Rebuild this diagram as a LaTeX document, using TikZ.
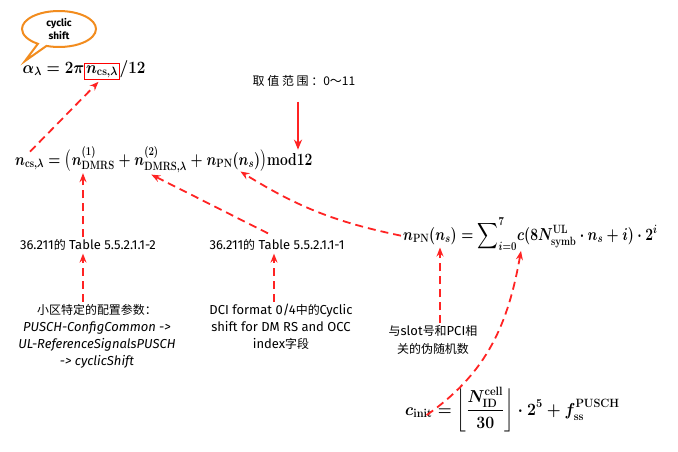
\documentclass[tikz,border=0pt]{standalone}
\usepackage{amsmath,amssymb}
\usepackage[no-math]{fontspec}
\setmainfont{Fira Sans}
\newfontfamily\cjk[Scale=0.92]{Noto Sans CJK SC}
\newfontfamily\cjksp[LetterSpace=22]{Noto Sans CJK SC}
\newfontfamily\cjkn{Noto Sans CJK SC}
\usetikzlibrary{arrows.meta,shapes.callouts}
\definecolor{arrred}{RGB}{255,35,35}
\definecolor{bubor}{RGB}{242,140,30}
\begin{document}
\begin{tikzpicture}[x=1pt,y=1pt,
  eq/.style={inner sep=0pt, font=\fontsize{18}{21}\selectfont\boldmath, xscale=#1, transform shape},
  eq/.default=0.8,
  lbl/.style={font=\fontsize{13}{17}\selectfont, align=center, inner sep=0pt},
  darr/.style={draw=arrred, line width=1.8pt, dash pattern=on 8pt off 5pt,
    -{Stealth[length=9pt,width=7pt,inset=3pt]}},
  sarr/.style={draw=arrred, line width=1.8pt, -{Stealth[length=10pt,width=8pt,inset=3pt]}}]
\useasboundingbox (0,0) rectangle (678,-451);

% speech bubble
\node[ellipse callout, draw=bubor, line width=2pt, fill=white,
  minimum width=74pt, minimum height=36pt, inner sep=0pt,
  callout absolute pointer={(25,-61)},
  font=\fontsize{10}{13}\selectfont\bfseries, align=center] (bub) at (59,-29) {cyclic\\shift};

% alpha formula
\node[eq=0.88, draw=red, line width=0.8pt, inner sep=1.5pt, anchor=base] (ncs) at (102,-73) {$n_{\mathbf{cs},\lambda}$};
\node[eq=0.88, anchor=base east] (alpha) at (ncs.base west) {$\alpha_\lambda=2\pi$};
\node[eq=0.88, anchor=base west] (al12) at (ncs.base east) {$/12$};

% formula 2
\node[eq, anchor=base west] (f2a) at (15,-165) {$n_{\mathbf{cs},\lambda}=\bigl($};
\node[eq, anchor=base west] (f2b) at (f2a.base east) {$n^{(1)}_{\mathbf{DMRS}}$};
\node[eq, anchor=base west] (f2p1) at (f2b.base east) {${}+{}$};
\node[eq, anchor=base west] (f2c) at (f2p1.base east) {$n^{(2)}_{\mathbf{DMRS},\lambda}$};
\node[eq, anchor=base west] (f2p2) at (f2c.base east) {${}+{}$};
\node[eq, anchor=base west] (f2d) at (f2p2.base east) {$n_{\mathbf{PN}}(n_s)$};
\node[eq, anchor=base west] (f2e) at (f2d.base east) {$\bigr)\mathbf{mod}12$};

% formula 3
\node[eq, anchor=base west] (f3a) at (403,-240) {$n_{\mathbf{PN}}(n_s)$};
\node[eq, anchor=base west] (f3b) at (f3a.base east) {$\displaystyle{}=\sum\nolimits_{i=0}^{7}$};
\node[eq, anchor=base west] (f3c) at (f3b.base east) {$c(8N^{\mathbf{UL}}_{\mathbf{symb}}\cdot n_s+i)\cdot 2^i$};

% formula 4
\node[eq=0.92, anchor=base west] (f4a) at (405,-415) {$c_{\mathbf{init}}$};
\node[eq=0.92, anchor=base west] (f4b) at (f4a.base east) {$\displaystyle{}=\left\lfloor\frac{N^{\mathbf{cell}}_{\mathbf{ID}}}{30}\right\rfloor\cdot 2^5+f^{\mathbf{PUSCH}}_{\mathbf{ss}}$};

% labels
\node[lbl, font=\fontsize{12}{14}\selectfont] (rng) at (304,-81) {{\cjksp 取值范围：}{\cjkn 0～11}};
\node[lbl] (t2) at (88,-245) {36.211{\cjk 的} Table 5.5.2.1.1-2};
\node[lbl] (t1) at (277,-245) {36.211{\cjk 的} Table 5.5.2.1.1-1};
\node[lbl] (cellp) at (97,-336) {{\cjk 小区特定的配置参数：}\\\textit{PUSCH-ConfigCommon ->}\\\textit{UL-ReferenceSignalsPUSCH}\\\textit{-> cyclicShift}};
\node[lbl] (dci) at (281,-327) {DCI format 0/4{\cjk 中的}Cyclic\\shift for DM RS and OCC\\index{\cjk 字段}};
\node[lbl, font=\fontsize{13}{18}\selectfont] (slot) at (433,-340) {{\cjk 与}slot{\cjk 号和}PCI{\cjk 相}\\{\cjk 关的伪随机数}};

% columns
\coordinate (colB) at (83,0);
\coordinate (colT1) at (274,0);
\coordinate (colS) at (440,0);
\coordinate (colR) at (298,0);

% arrows
\draw[sarr] ([yshift=-15pt]rng.south -| colR) -- (f2e.north -| colR);
\draw[darr] ([xshift=15pt,yshift=-2pt]f2a.north west) -- ([xshift=14pt,yshift=-2pt]ncs.south west);
\draw[darr] ([yshift=2pt]t2.north -| colB) -- ([yshift=-3pt]f2b.south -| colB);
\draw[darr] ([yshift=2pt]cellp.north -| colB) -- ([yshift=-3pt]t2.south -| colB);
\draw[darr] ([yshift=2pt]dci.north -| colT1) -- ([yshift=-3pt]t1.south -| colT1);
\draw[darr] ([xshift=-9pt,yshift=6pt]t1.north) -- ([xshift=17pt,yshift=-2pt]f2c.south west);
\draw[darr] ([xshift=-2pt]f3a.west) to[bend left=10] ([xshift=34pt,yshift=-2pt]f2d.south west);
\draw[darr] ([yshift=2pt]slot.north -| colS) -- ([yshift=-3pt]f3a.south -| colS);
\draw[darr] ([xshift=-6pt,yshift=-8pt]f4a.north east) to[out=35,in=-100] ([xshift=4pt,yshift=-3pt]f3c.south west);
\end{tikzpicture}
\end{document}
